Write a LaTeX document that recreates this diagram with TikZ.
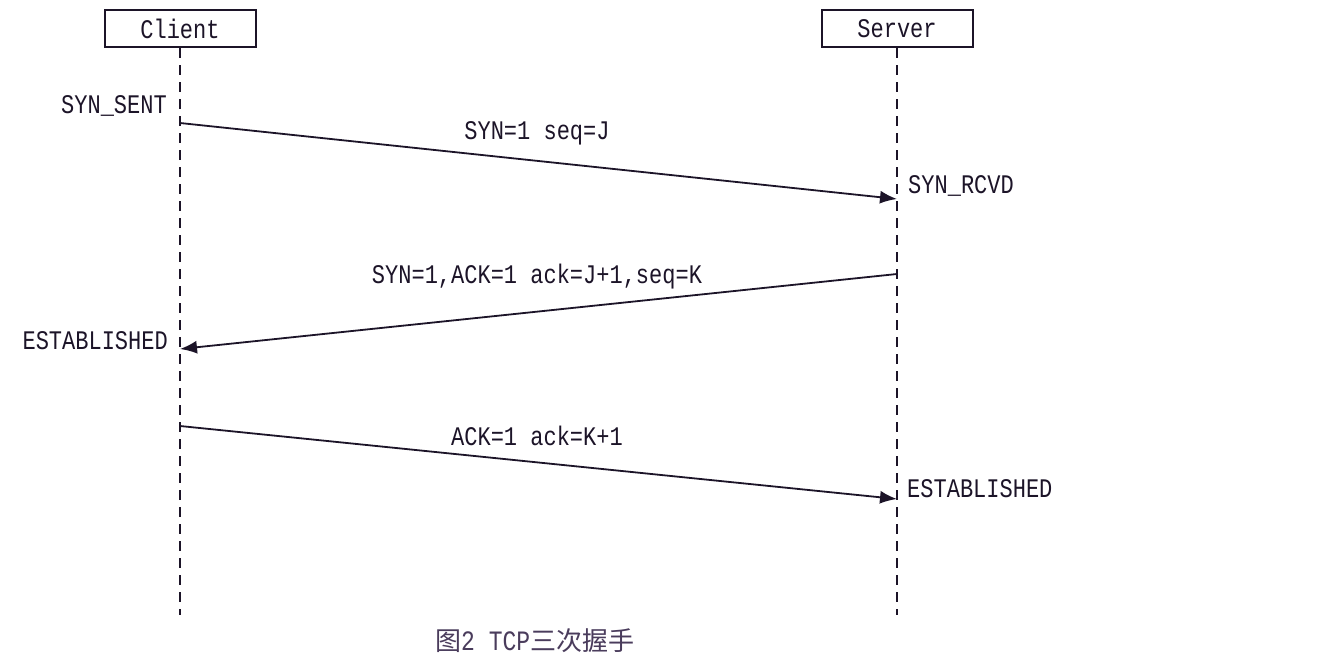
\documentclass[tikz,border=0pt]{standalone}
\usepackage{fontspec}
\setmonofont{Liberation Mono}
\newfontfamily\cjk{Noto Sans CJK SC}
\usetikzlibrary{arrows.meta}
\definecolor{ink}{HTML}{1C1428}
\definecolor{cap}{HTML}{4A3C5C}
\newcommand{\tl}[1]{\scalebox{1}[1.22]{#1}}
\begin{document}
\begin{tikzpicture}[x=1pt,y=-1pt,
  lbl/.style={font=\ttfamily\fontsize{22}{24}\selectfont, text=ink, inner sep=0pt},
  actor/.style={draw=ink, line width=2pt, minimum width=151pt, minimum height=37pt, font=\ttfamily\fontsize{22}{24}\selectfont, text=ink},
  life/.style={draw=ink, line width=2pt, dash pattern=on 10pt off 7pt},
  msg/.style={draw=ink, line width=1.8pt, -{Latex[length=17pt,width=13pt]}}]
\fill[white] (0,0) rectangle (1326,664);
\useasboundingbox (0,0) rectangle (1326,664);
\node[actor] (client) at (180,28.5) {\tl{Client}};
\node[actor] (server) at (897,28.5) {\tl{Server}};
\coordinate (cend) at (180,615);
\coordinate (send) at (897,615);
\draw[life] (client.south) -- (cend);
\draw[life] (server.south) -- (send);
\coordinate (c1) at (180,123);
\coordinate (s1) at (897,199);
\coordinate (s2) at (897,274);
\coordinate (c2) at (180,349);
\coordinate (c3) at (180,426);
\coordinate (s3) at (897,499);
\draw[msg] (c1) -- (s1);
\draw[msg] (s2) -- (c2);
\draw[msg] (c3) -- (s3);
\node[lbl] (m1) at (537,133) {\tl{SYN=1 seq=J}};
\node[lbl] (m2) at (537,277) {\tl{SYN=1,ACK=1 ack=J+1,seq=K}};
\node[lbl] (m3) at (537,436) {\tl{ACK=1 ack=K+1}};
\node[lbl, anchor=east] (st1) at (167,106) {\tl{SYN\_SENT}};
\node[lbl, anchor=west] (st2) at (908,186) {\tl{SYN\_RCVD}};
\node[lbl, anchor=east] (st3) at (168,341) {\tl{ESTABLISHED}};
\node[lbl, anchor=west] (st4) at (907,489) {\tl{ESTABLISHED}};
\node[text=cap, inner sep=0pt, anchor=west] (caption) at (435,641) {\cjk\fontsize{26}{28}\selectfont 图\ttfamily\fontsize{23}{25}\selectfont\tl{2 TCP}\cjk\fontsize{26}{28}\selectfont 三次握手};
\end{tikzpicture}
\end{document}
